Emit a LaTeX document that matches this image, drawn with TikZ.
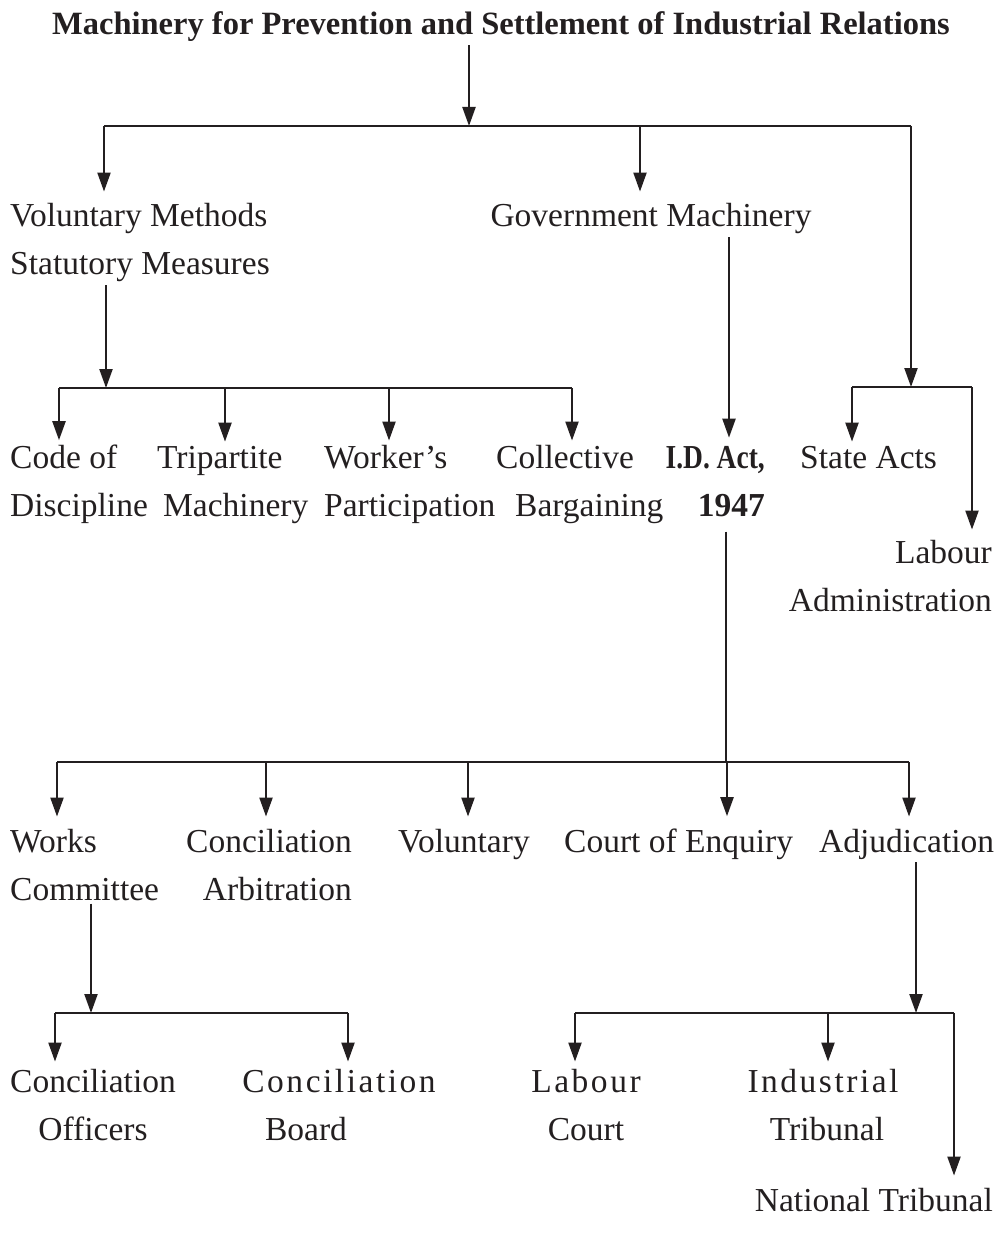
\documentclass[tikz,border=0pt]{standalone}
\usepackage{fontspec}
\setmainfont{Liberation Serif}
\usetikzlibrary{arrows.meta}
\definecolor{ink}{RGB}{35,31,32}
\newcommand{\spc}{\addfontfeatures{LetterSpace=7.5}}
\newcommand{\narrowtxt}{\addfontfeatures{FakeStretch=0.82}}
\begin{document}
\begin{tikzpicture}[x=1pt,y=-1pt,
  lbl/.style={inner sep=0pt, font=\fontsize{33.5}{48}\selectfont, text=ink},
  ln/.style={draw=ink, line width=2.2pt},
  arr/.style={ln, -{Triangle[length=19pt,width=13pt]}}]
\useasboundingbox (0,0) rectangle (997,1238);

% title
\node[lbl, font=\bfseries\fontsize{32.5}{40}\selectfont, anchor=base] (title) at (501,35)
  {Machinery for Prevention and Settlement of Industrial Relations};

% level 1
\node[lbl, anchor=base west, align=left] (vm) at (10,275) {Voluntary Methods\\Statutory Measures};
\node[lbl, anchor=base] (gm) at (651,227) {Government Machinery};

\coordinate (j0) at (469,126);
\coordinate (b1a) at (104,126);
\coordinate (b1b) at (640,126);
\coordinate (b1c) at (911,126);
\draw[arr, shorten <=3pt] (title.south -| j0) -- (j0);
\draw[ln] (b1a) -- (b1c);
\draw[arr, shorten >=12pt] (b1a) -- (vm.north -| b1a);
\draw[arr, shorten >=12pt] (b1b) -- (gm.north -| b1b);

% level 2
\node[lbl, anchor=base west, align=left] (cd) at (10,516) {Code of\\Discipline};
\node[lbl, anchor=base west, align=left] (tm) at (157,516) {Tripartite\\\hspace*{6pt}Machinery};
\node[lbl, anchor=base west, align=left] (wp) at (324,516) {Worker’s\\Participation};
\node[lbl, anchor=base west, align=left] (cb) at (496,516) {Collective\\\hspace*{19pt}Bargaining};
\node[lbl, anchor=base east, align=right, font=\bfseries\fontsize{33.5}{48}\selectfont] (id) at (765,516) {{\narrowtxt I.D. Act,}\\1947};
\node[lbl, anchor=base west] (sa) at (800,468) {State Acts};
\node[lbl, anchor=base east, align=right] (la) at (992,611) {Labour\\Administration};

\coordinate (b2v) at (106,388);
\coordinate (b2a) at (59,388);
\coordinate (b2b) at (225,388);
\coordinate (b2c) at (389,388);
\coordinate (b2d) at (572,388);
\draw[arr, shorten <=3pt] (vm.south -| b2v) -- (b2v);
\draw[ln] (b2a) -- (b2d);
\draw[arr, shorten >=4pt] (b2a) -- (cd.north -| b2a);
\draw[arr, shorten >=4pt] (b2b) -- (tm.north -| b2b);
\draw[arr, shorten >=4pt] (b2c) -- (wp.north -| b2c);
\draw[arr, shorten >=4pt] (b2d) -- (cb.north -| b2d);

\coordinate (gx) at (729,300);
\draw[arr, shorten <=3pt, shorten >=8pt] (gm.south -| gx) -- (id.north -| gx);

\coordinate (b3c) at (911,387);
\coordinate (b3a) at (852,387);
\coordinate (b3b) at (972,387);
\draw[arr] (b1c) -- (b3c);
\draw[ln] (b3a) -- (b3b);
\draw[arr, shorten >=4pt] (b3a) -- (sa.north -| b3a);
\draw[arr, shorten >=10pt] (b3b) -- (la.north -| b3b);

% level 3
\node[lbl, anchor=base west, align=left] (wc) at (10,900) {Works\\Committee};
\node[lbl, anchor=base east, align=right] (ca) at (352,900) {Conciliation\\Arbitration};
\node[lbl, anchor=base west] (vo) at (398,852) {Voluntary};
\node[lbl, anchor=base west] (ce) at (564,852) {Court of Enquiry};
\node[lbl, anchor=base west] (ad) at (819,852) {Adjudication};

\coordinate (b4i) at (726,762);
\coordinate (b4a) at (57,762);
\coordinate (b4b) at (266,762);
\coordinate (b4c) at (468,762);
\coordinate (b4d) at (727,762);
\coordinate (b4e) at (909,762);
\draw[ln, shorten <=15pt] (id.south -| b4i) -- (b4i);
\draw[ln] (b4a) -- (b4e);
\draw[arr, shorten >=12pt] (b4a) -- (wc.north -| b4a);
\draw[arr, shorten >=12pt] (b4b) -- (ca.north -| b4b);
\draw[arr, shorten >=12pt] (b4c) -- (vo.north -| b4c);
\draw[arr, shorten >=12pt] (b4d) -- (ce.north -| b4d);
\draw[arr, shorten >=12pt] (b4e) -- (ad.north -| b4e);

% level 4
\node[lbl, anchor=base, align=center] (co) at (93,1140) {Conciliation\\Officers};
\node[lbl, anchor=base, align=center] (cbd) at (339,1140) {{\spc Conciliation}\\\hspace*{-66pt}Board};
\node[lbl, anchor=base, align=center] (lc) at (586,1140) {{\spc Labour}\\Court};
\node[lbl, anchor=base, align=center] (it) at (823,1140) {{\spc Industrial}\\\hspace*{8pt}Tribunal};
\node[lbl, anchor=base east] (nt) at (993,1211) {National Tribunal};

\coordinate (b5w) at (91,1013);
\coordinate (b5a) at (55,1013);
\coordinate (b5b) at (348,1013);
\draw[arr, shorten <=3pt] (wc.south -| b5w) -- (b5w);
\draw[ln] (b5a) -- (b5b);
\draw[arr, shorten >=7pt] (b5a) -- (co.north -| b5a);
\draw[arr, shorten >=7pt] (b5b) -- (cbd.north -| b5b);

\coordinate (b6j) at (916,1013);
\coordinate (b6a) at (575,1013);
\coordinate (b6b) at (828,1013);
\coordinate (b6c) at (954,1013);
\draw[arr, shorten <=3pt] (ad.south -| b6j) -- (b6j);
\draw[ln] (b6a) -- (b6c);
\draw[arr, shorten >=7pt] (b6a) -- (lc.north -| b6a);
\draw[arr, shorten >=7pt] (b6b) -- (it.north -| b6b);
\draw[arr, shorten >=12pt] (b6c) -- (nt.north -| b6c);
\end{tikzpicture}
\end{document}
